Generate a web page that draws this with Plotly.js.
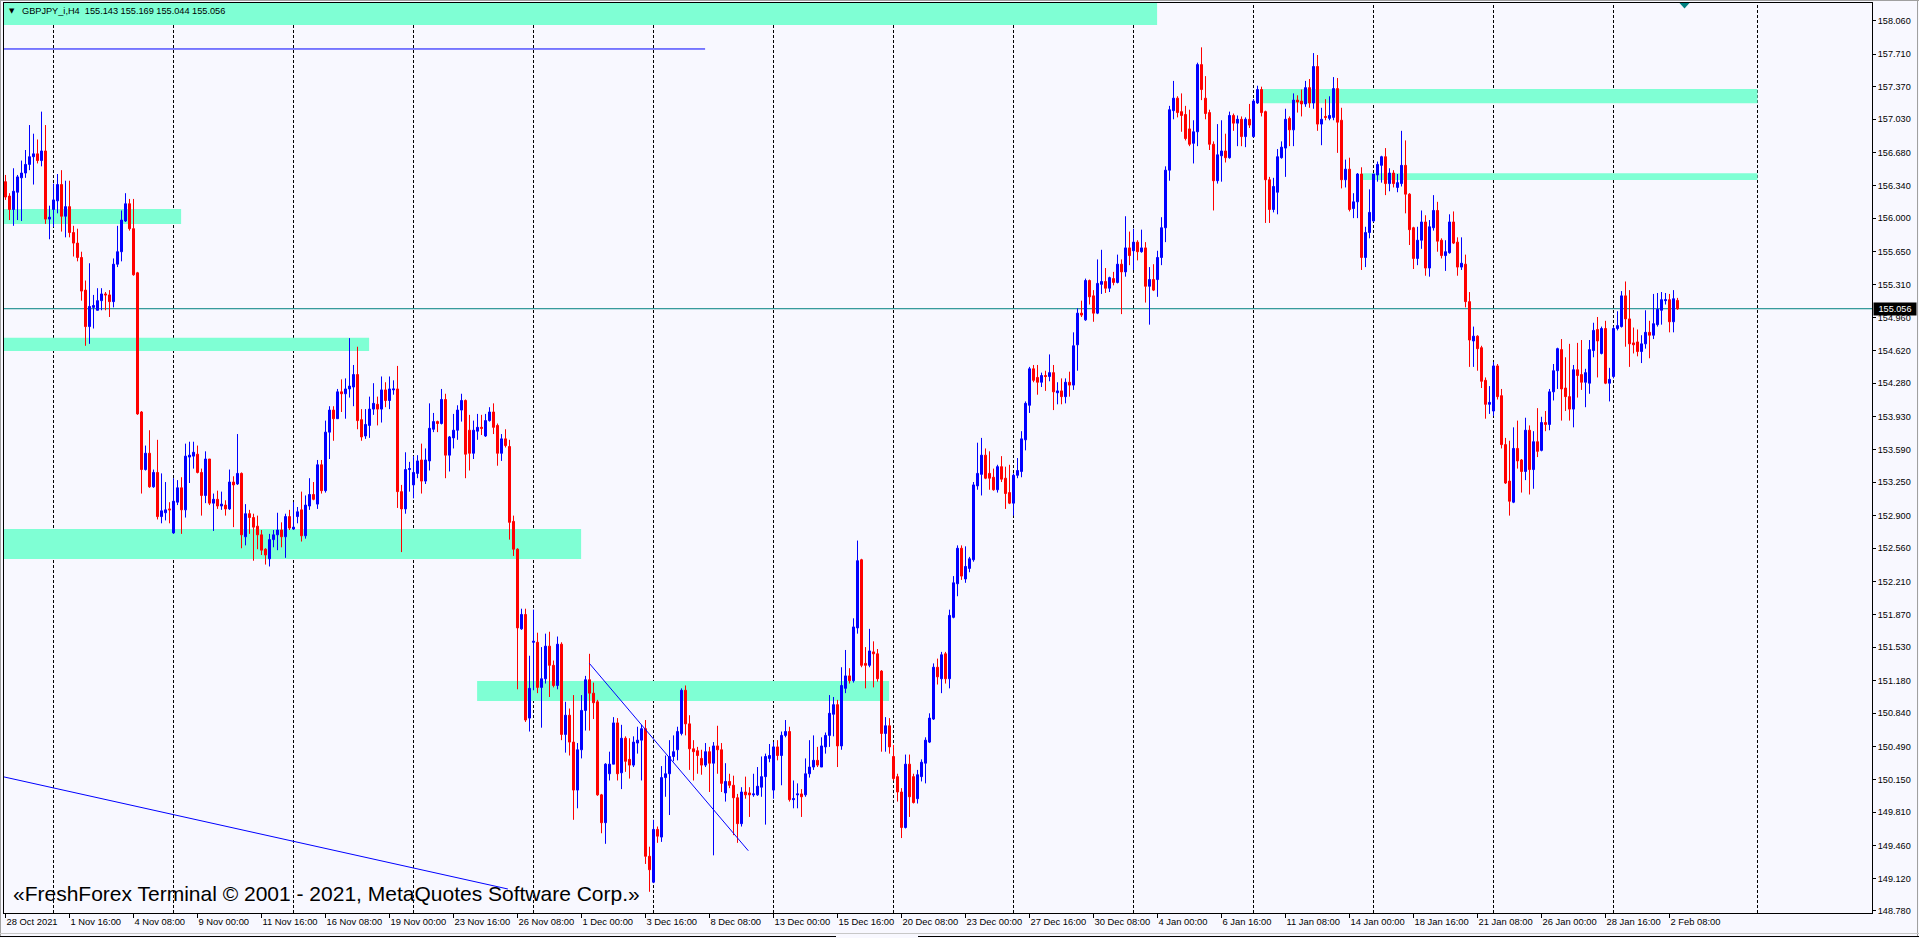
<!DOCTYPE html>
<html><head><meta charset="utf-8">
<script src="https://cdn.plot.ly/plotly-3.0.1.min.js"></script>
<style>html,body{margin:0;padding:0;background:#F8F8FF;overflow:hidden}#chart{width:1919px;height:938px}</style>
</head><body><div id="chart"></div>
<script>
const openP = [
156.38,156.23,156.09,156.27,156.42,156.47,156.56,156.64,156.67,156.60,
156.70,155.99,156.09,156.18,156.35,156.02,156.12,155.85,155.74,155.59,
155.25,154.87,155.07,155.04,155.14,155.21,155.20,155.13,155.52,155.65,
155.97,156.15,155.89,155.43,153.98,153.38,153.55,153.20,153.35,152.89,
152.93,152.97,152.72,153.04,153.19,152.96,153.51,153.52,153.54,153.35,
153.11,153.49,153.03,153.07,153.00,153.01,152.97,153.25,153.23,153.34,
152.68,152.92,152.88,152.79,152.70,152.55,152.45,152.65,152.70,152.75,
152.68,152.89,152.76,152.89,152.96,152.69,153.00,153.12,153.02,153.43,
153.16,153.77,154.00,153.91,154.19,154.17,154.22,154.24,154.37,153.90,
153.73,153.84,154.01,154.06,154.01,154.21,154.10,154.21,154.22,153.15,
152.97,153.38,153.22,153.34,153.48,153.26,153.47,153.80,153.88,153.86,
154.11,153.53,153.71,153.79,154.00,154.10,153.79,153.55,153.78,153.82,
153.73,153.89,153.98,153.84,153.55,153.70,153.62,152.84,152.55,151.72,
151.87,150.79,151.58,151.58,151.11,151.20,151.54,151.34,151.13,151.56,
150.62,150.82,150.54,150.04,150.46,150.87,151.19,151.05,150.96,149.99,
149.70,150.21,150.31,150.74,150.22,150.58,150.36,150.30,150.53,150.56,
150.68,149.35,149.08,149.63,149.55,150.17,150.21,150.39,150.46,150.63,
151.08,150.73,150.47,150.45,150.37,150.30,150.44,150.32,150.50,150.46,
150.01,150.13,150.09,149.96,149.69,150.02,150.01,149.99,149.99,150.07,
150.18,150.37,150.04,150.49,150.40,150.61,150.65,149.94,149.99,150.00,
149.99,150.21,150.28,150.35,150.28,150.49,150.61,150.83,150.93,150.50,
151.10,151.23,151.18,151.73,152.44,151.36,151.34,151.48,151.46,151.28,
150.63,150.71,150.39,150.18,150.02,149.65,150.31,150.18,149.95,150.18,
150.32,150.54,150.78,151.32,151.20,151.46,151.20,151.84,152.19,152.56,
152.24,152.35,152.44,153.21,153.33,153.53,153.34,153.30,153.17,153.41,
153.29,153.14,153.03,153.32,153.36,153.69,154.05,154.43,154.34,154.29,
154.36,154.35,154.39,154.18,154.20,154.14,154.29,154.26,154.68,155.01,
154.94,155.35,155.19,155.01,155.31,155.34,155.27,155.37,155.33,155.52,
155.44,155.69,155.66,155.75,155.65,155.69,155.29,155.36,155.36,155.59,
155.90,156.50,157.12,157.25,157.11,157.08,156.93,156.78,156.90,157.60,
157.25,157.10,156.77,156.39,156.65,156.70,156.63,157.07,156.99,157.03,
156.85,157.03,156.85,157.20,157.34,157.11,156.40,156.09,156.27,156.63,
156.73,157.04,156.92,157.23,157.22,157.19,157.36,157.20,157.58,156.98,
157.06,157.04,157.05,157.35,157.02,156.40,156.51,156.10,156.17,156.46,
155.59,155.85,155.97,156.45,156.55,156.64,156.36,156.47,156.32,156.36,
156.55,156.25,155.90,155.58,155.77,155.96,155.48,155.90,156.08,155.77,
155.61,155.64,155.96,155.75,155.49,155.52,155.13,154.72,154.77,154.65,
154.31,154.06,153.99,154.46,154.15,153.64,153.26,153.04,153.60,153.48,
153.36,153.79,153.38,153.67,153.58,153.87,153.85,154.19,154.41,154.63,
154.23,154.14,154.01,154.42,154.37,154.29,154.28,154.62,154.84,154.59,
154.85,154.28,154.35,154.85,154.87,155.19,154.95,154.70,154.71,154.61,
154.69,154.81,154.78,154.89,155.04,155.14,155.15,154.92,155.143];
const highP = [
156.45,156.26,156.52,156.45,156.60,156.71,156.97,156.88,156.82,157.11,
156.97,156.13,156.36,156.46,156.50,156.39,156.39,155.92,155.89,155.65,
155.35,155.53,155.20,155.27,155.27,155.23,155.25,155.58,155.92,156.08,
156.26,156.20,156.20,155.44,153.99,153.63,153.79,153.38,153.69,153.34,
153.25,153.04,153.29,153.27,153.30,153.65,153.67,153.67,153.63,153.39,
153.57,153.49,153.13,153.16,153.15,153.06,153.38,153.31,153.75,153.35,
153.02,152.96,152.92,152.90,152.75,152.56,152.71,152.75,152.93,152.83,
152.92,152.96,153.04,152.99,153.15,153.11,153.29,153.25,153.48,153.48,
153.89,154.04,154.04,154.22,154.32,154.33,154.75,154.47,154.66,154.01,
154.01,154.14,154.28,154.14,154.35,154.29,154.35,154.31,154.46,153.22,
153.56,153.46,153.52,153.53,153.65,153.60,154.07,153.97,153.89,154.22,
154.17,153.73,153.96,154.05,154.17,154.11,153.95,153.89,153.96,153.95,
153.96,154.03,154.07,153.86,153.75,153.80,153.69,152.90,152.56,151.93,
151.93,151.44,151.92,151.68,151.53,151.67,151.69,151.39,151.64,151.58,
150.96,150.89,151.03,150.53,151.03,151.23,151.46,151.16,150.98,150.00,
150.32,150.44,150.80,150.79,150.72,150.60,150.58,150.60,150.70,150.72,
150.77,149.45,149.73,149.66,150.29,150.40,150.56,150.61,150.70,151.10,
151.13,150.82,150.56,150.49,150.46,150.53,150.49,150.54,150.71,150.53,
150.32,150.21,150.19,150.00,150.07,150.18,150.07,150.21,150.28,150.39,
150.42,150.52,150.54,150.56,150.65,150.77,150.70,150.14,150.11,150.05,
150.37,150.56,150.61,150.49,150.59,150.64,151.03,151.01,150.98,151.32,
151.50,151.31,151.83,152.64,152.45,151.53,151.72,151.59,151.51,151.29,
150.80,150.79,150.51,150.21,150.06,150.41,150.41,150.21,150.25,150.36,
150.59,150.84,151.36,151.41,151.48,151.48,151.92,152.27,152.59,152.59,
152.58,152.47,153.25,153.66,153.71,153.60,153.57,153.39,153.43,153.52,
153.41,153.43,153.34,153.50,153.78,154.09,154.45,154.47,154.47,154.39,
154.41,154.58,154.47,154.29,154.33,154.33,154.40,154.81,155.06,155.14,
155.37,155.36,155.25,155.57,155.67,155.48,155.39,155.44,155.62,155.57,
156.02,155.86,155.89,155.77,155.88,155.75,155.49,155.52,155.66,156.01,
156.54,157.17,157.43,157.27,157.30,157.17,157.13,157.02,157.62,157.78,
157.48,157.13,156.80,156.98,157.02,156.88,157.11,157.09,157.07,157.06,
157.05,157.19,157.24,157.38,157.37,157.12,156.43,156.42,156.72,156.80,
157.14,157.06,157.30,157.28,157.34,157.43,157.45,157.72,157.70,157.15,
157.24,157.27,157.47,157.46,157.15,156.61,156.63,156.26,156.47,156.53,
155.91,156.30,156.46,156.59,156.65,156.73,156.52,156.50,156.46,156.91,
156.81,156.26,155.91,155.91,156.08,156.03,155.98,156.24,156.17,155.79,
155.77,156.04,156.07,155.80,155.80,155.62,155.23,154.87,154.78,154.67,
154.34,154.25,154.50,154.48,154.22,153.71,153.68,153.82,153.89,153.49,
153.92,153.84,153.78,154.02,153.93,153.99,154.22,154.48,154.65,154.74,
154.55,154.69,154.47,154.70,154.73,154.43,154.73,154.91,154.97,154.87,
154.93,154.44,154.87,155.03,155.24,155.34,155.25,154.86,154.84,154.78,
155.04,154.93,155.21,155.22,155.23,155.22,155.21,155.25,155.169];
const lowP = [
156.19,155.98,155.92,155.98,155.97,156.42,156.50,156.35,156.57,156.54,
155.94,155.78,155.91,156.05,155.86,155.80,155.80,155.60,155.55,155.14,
154.67,154.69,154.85,155.04,155.04,155.04,154.97,155.07,155.49,155.55,
155.96,155.87,155.40,153.95,153.13,153.37,153.19,153.19,152.86,152.82,
152.85,152.82,152.71,153.01,152.71,152.88,153.24,153.39,153.34,152.90,
153.03,153.01,152.74,152.97,152.96,152.90,152.96,152.78,153.22,152.56,
152.59,152.71,152.43,152.55,152.49,152.39,152.37,152.57,152.54,152.57,
152.46,152.75,152.75,152.82,152.63,152.66,152.96,153.06,152.97,153.13,
153.14,153.49,153.68,153.91,153.98,153.91,154.13,154.04,153.80,153.68,
153.70,153.71,153.95,153.84,153.87,154.03,154.01,154.16,152.98,152.52,
152.92,153.15,153.08,153.29,153.13,153.23,153.37,153.77,153.77,153.85,
153.29,153.36,153.60,153.69,153.88,153.29,153.37,153.49,153.69,153.74,
153.72,153.88,153.75,153.42,153.47,153.61,152.65,152.48,151.09,151.71,
150.75,150.65,151.08,151.05,150.69,151.15,151.01,151.11,151.09,150.56,
150.43,150.40,149.73,149.85,150.37,150.66,150.66,150.78,149.98,149.59,
149.48,150.14,150.31,150.14,150.05,150.23,150.16,150.28,150.42,150.14,
149.27,148.98,149.07,149.49,149.50,149.97,149.78,150.34,150.35,150.61,
150.61,150.25,150.14,150.21,150.20,150.28,150.02,149.36,150.21,150.02,
149.92,150.06,149.57,149.49,149.66,149.95,149.76,149.97,149.98,149.97,
149.68,150.33,149.95,150.35,150.09,150.59,149.92,149.85,149.85,149.76,
149.97,150.17,150.25,150.28,150.28,150.42,150.49,150.60,150.28,150.46,
151.05,151.15,151.16,151.67,151.32,151.10,151.32,151.11,151.17,150.44,
150.44,150.42,150.14,149.92,149.54,149.64,149.76,149.90,149.90,150.13,
150.11,150.53,150.77,151.14,151.05,151.15,151.10,151.83,152.06,152.23,
152.20,152.31,152.42,153.17,153.11,153.28,153.17,153.16,153.14,153.25,
152.97,153.02,152.90,153.29,153.30,153.58,153.97,154.29,154.16,154.24,
154.20,154.30,154.00,154.06,154.06,154.07,154.14,154.21,154.41,154.97,
154.93,155.10,154.92,155.00,155.21,155.22,155.23,155.30,155.32,155.00,
155.39,155.51,155.46,155.56,155.64,155.12,154.89,155.24,155.18,155.51,
155.75,156.39,157.03,157.05,156.90,156.81,156.75,156.57,156.75,157.23,
157.03,156.71,156.08,156.36,156.38,156.58,156.62,156.91,156.75,156.75,
156.74,156.94,156.84,157.19,157.06,155.95,155.95,156.06,156.04,156.62,
156.43,156.75,156.75,157.10,157.06,157.16,157.15,157.14,156.91,156.76,
157.02,157.02,157.02,156.68,156.31,156.32,156.07,156.00,156.00,155.46,
155.49,155.79,155.96,156.38,156.37,156.24,156.28,156.32,156.27,156.33,
156.05,155.72,155.47,155.51,155.68,155.40,155.39,155.87,155.65,155.58,
155.45,155.63,155.73,155.40,155.46,155.07,154.45,154.45,154.41,154.23,
153.91,153.96,153.94,154.11,153.60,153.23,152.90,153.03,153.39,153.14,
153.27,153.12,153.18,153.51,153.57,153.78,153.79,154.10,154.22,153.89,
153.99,153.89,153.82,154.13,154.21,154.03,154.17,154.55,154.34,154.58,
154.27,154.09,154.33,154.83,154.86,154.66,154.45,154.59,154.56,154.49,
154.64,154.54,154.74,154.87,154.89,155.10,154.81,154.81,155.044];
const closeP = [
156.22,156.09,156.28,156.43,156.47,156.56,156.64,156.67,156.60,156.70,
155.99,156.01,156.19,156.35,156.02,156.12,155.85,155.74,155.59,155.24,
154.87,155.08,155.09,155.14,155.21,155.20,155.13,155.52,155.65,155.98,
156.15,155.89,155.41,153.96,153.38,153.55,153.20,153.35,152.89,152.95,
152.96,152.96,153.05,153.19,152.96,153.52,153.53,153.56,153.35,153.11,
153.49,153.03,153.07,153.00,153.02,152.97,153.25,153.22,153.34,152.70,
152.92,152.88,152.78,152.70,152.54,152.49,152.65,152.70,152.75,152.68,
152.89,152.77,152.78,152.94,152.69,153.01,153.12,153.07,153.43,153.16,
153.77,154.00,153.91,154.19,154.17,154.22,154.25,154.37,153.89,153.72,
153.85,154.01,154.07,154.01,154.21,154.10,154.22,154.22,153.15,152.97,
153.38,153.39,153.35,153.47,153.26,153.48,153.81,153.88,153.86,154.11,
153.53,153.72,153.79,154.00,154.10,153.54,153.55,153.79,153.82,153.81,
153.89,153.98,153.82,153.55,153.70,153.63,152.83,152.55,151.73,151.87,
150.77,151.10,151.59,151.11,151.20,151.54,151.34,151.13,151.56,150.62,
150.82,150.54,150.04,150.46,150.87,151.19,151.05,150.95,149.99,149.70,
150.31,150.31,150.74,150.21,150.58,150.34,150.30,150.54,150.56,150.68,
149.35,149.21,149.63,149.56,150.17,150.21,150.39,150.44,150.65,151.08,
150.73,150.47,150.44,150.40,150.30,150.44,150.32,150.50,150.46,150.11,
150.13,150.09,149.96,149.69,150.02,149.99,149.99,150.00,150.08,150.18,
150.39,150.40,150.49,150.40,150.61,150.65,149.94,149.95,150.00,149.97,
150.21,150.28,150.35,150.30,150.50,150.61,150.84,150.93,150.50,151.13,
151.23,151.18,151.74,152.43,151.34,151.34,151.49,151.46,151.20,150.63,
150.71,150.49,150.16,150.02,149.65,150.31,149.97,149.91,150.20,150.33,
150.56,150.79,151.32,151.22,151.45,151.20,151.86,152.20,152.56,152.27,
152.37,152.45,153.22,153.34,153.53,153.29,153.29,153.17,153.41,153.28,
153.13,153.03,153.32,153.37,153.70,154.07,154.43,154.31,154.29,154.36,
154.35,154.39,154.19,154.20,154.14,154.29,154.26,154.67,155.01,154.99,
155.35,155.18,155.01,155.32,155.34,155.27,155.38,155.33,155.52,155.44,
155.69,155.61,155.75,155.65,155.69,155.29,155.36,155.25,155.59,155.90,
156.50,157.13,157.25,157.10,157.07,156.83,156.77,156.90,157.60,157.34,
157.09,156.77,156.39,156.66,156.70,156.63,157.07,156.99,157.03,156.85,
157.03,156.97,157.22,157.34,157.10,156.40,156.09,156.33,156.64,156.74,
157.03,156.92,157.23,157.21,157.19,157.36,157.20,157.58,156.98,157.03,
157.05,157.07,157.35,157.00,156.40,156.51,156.09,156.17,156.46,155.59,
155.85,156.06,156.46,156.56,156.64,156.36,156.47,156.36,156.37,156.55,
156.25,155.88,155.58,155.77,155.96,155.48,155.91,156.08,155.76,155.61,
155.65,155.96,155.74,155.49,155.53,155.13,154.73,154.77,154.64,154.30,
154.06,154.08,154.46,154.14,153.64,153.24,153.05,153.60,153.47,153.36,
153.79,153.38,153.67,153.57,153.87,153.85,154.19,154.41,154.64,154.22,
154.14,154.01,154.42,154.36,154.29,154.39,154.63,154.83,154.72,154.85,
154.28,154.32,154.85,154.88,155.19,154.95,154.69,154.68,154.61,154.69,
154.81,154.78,154.90,155.05,155.15,155.15,154.92,155.16,155.056];

const candleIdx = openP.map((_, i) => i);

const xTickIdx = [0,16,32,48,64,80,96,112,128,144,160,176,192,208,224,240,256,272,288,304,320,336,352,368,384,400,416];
const xTickText = ["28 Oct 2021","1 Nov 16:00","4 Nov 08:00","9 Nov 00:00","11 Nov 16:00","16 Nov 08:00","19 Nov 00:00","23 Nov 16:00","26 Nov 08:00","1 Dec 00:00","3 Dec 16:00","8 Dec 08:00","13 Dec 00:00","15 Dec 16:00","20 Dec 08:00","23 Dec 00:00","27 Dec 16:00","30 Dec 08:00","4 Jan 00:00","6 Jan 16:00","11 Jan 08:00","14 Jan 00:00","18 Jan 16:00","21 Jan 08:00","26 Jan 00:00","28 Jan 16:00","2 Feb 08:00"];
const yTickVals = [158.060,157.710,157.370,157.030,156.680,156.340,156.000,155.650,155.310,154.960,154.620,154.280,153.930,153.590,153.250,152.900,152.560,152.210,151.870,151.530,151.180,150.840,150.490,150.150,149.810,149.460,149.120,148.780];
const gridIdx = [12,42,72,102,132,162,192,222,252,282,312,342,372,402,438];

// rectangle zones (candle index span, price span)
const zoneStart = [-1, -1, -1, -1, 117.9, 313.6, 339.0];
const zoneEnd   = [287.9, 43.9, 90.9, 143.9, 220.9, 438, 438];
const zoneLow   = [158.013, 155.939, 154.616, 152.448, 150.968, 157.197, 156.398];
const zoneHigh  = [158.400, 156.096, 154.754, 152.761, 151.177, 157.346, 156.468];

// trend lines
const trendX0 = [-0.375, -0.375, 145.95];
const trendX1 = [174.9, 125.6, 185.7];
const trendY0 = [157.763, 150.177, 151.361];
const trendY1 = [157.763, 149.009, 149.408];

const symbol = "GBPJPY_i,H4";
const watermark = "«FreshForex Terminal © 2001 - 2021, MetaQuotes Software Corp.»";

// ---------- layout helpers (pixel -> paper) ----------
const W = 1919, H = 938, ML = 4, MR = 47, MT = 3, MB = 25;
const PW = W - ML - MR, PH = H - MT - MB;
const xp = px => (px - ML) / PW;
const yp = py => (H - MB - py) / PH;

const last = openP.length - 1;
const lastClose = closeP[last];

const shapes = [];
for (let k = 0; k < zoneStart.length; k++) {
  shapes.push({type:'rect', xref:'x', yref:'y', x0:zoneStart[k], x1:zoneEnd[k], y0:zoneLow[k], y1:zoneHigh[k],
    fillcolor:'#7FFFD4', line:{width:0}, layer:'below'});
}
gridIdx.forEach(g => shapes.push({type:'line', xref:'x', yref:'paper', x0:g, x1:g, y0:0, y1:1,
  line:{color:'#000000', width:1, dash:'3px,2px'}, layer:'below'}));
shapes.push({type:'line', xref:'paper', yref:'y', x0:0, x1:1, y0:lastClose, y1:lastClose,
  line:{color:'#008080', width:1}, layer:'below'});
for (let k = 0; k < trendX0.length; k++) {
  shapes.push({type:'line', xref:'x', yref:'y', x0:trendX0[k], x1:trendX1[k], y0:trendY0[k], y1:trendY1[k],
    line:{color:'#0000FF', width:1}, layer:'above'});
}
// chart shift marker
shapes.push({type:'path', xref:'paper', yref:'paper',
  path:`M ${xp(1679.5)},${yp(3)} L ${xp(1689.5)},${yp(3)} L ${xp(1684.5)},${yp(8.5)} Z`,
  fillcolor:'#008080', line:{width:0}});
// window borders
shapes.push({type:'line', xref:'paper', yref:'paper', x0:xp(0), x1:xp(W), y0:yp(0.5), y1:yp(0.5), line:{color:'#A0A0A0', width:1}});
shapes.push({type:'line', xref:'paper', yref:'paper', x0:xp(0.5), x1:xp(0.5), y0:yp(0), y1:yp(937), line:{color:'#A0A0A0', width:1}});
shapes.push({type:'line', xref:'paper', yref:'paper', x0:xp(1917.5), x1:xp(1917.5), y0:yp(0), y1:yp(937), line:{color:'#A0A0A0', width:1}});
shapes.push({type:'line', xref:'paper', yref:'paper', x0:xp(0), x1:xp(W), y0:yp(933.5), y1:yp(933.5), line:{color:'#C8C8C8', width:1}});
shapes.push({type:'line', xref:'paper', yref:'paper', x0:xp(0), x1:xp(836), y0:yp(936.5), y1:yp(936.5), line:{color:'#000000', width:1}});
shapes.push({type:'line', xref:'paper', yref:'paper', x0:xp(918), x1:xp(W), y0:yp(936.5), y1:yp(936.5), line:{color:'#000000', width:1}});

const fam = 'Liberation Sans, Arial, sans-serif';
const annotations = [
  {xref:'paper', yref:'paper', x:xp(7), y:yp(11), xanchor:'left', yanchor:'middle', showarrow:false,
   text:'▼', font:{family:'DejaVu Sans', size:7, color:'#000'}},
  {xref:'paper', yref:'paper', x:xp(20), y:yp(11), xanchor:'left', yanchor:'middle', showarrow:false,
   text: symbol + '\u00a0\u00a0' + [openP[last], highP[last], lowP[last], closeP[last]].map(v => v.toFixed(3)).join(' '),
   font:{family:fam, size:9.2, color:'#000'}},
  {xref:'paper', yref:'paper', x:xp(11), y:yp(893), xanchor:'left', yanchor:'middle', showarrow:false,
   text: watermark, font:{family:fam, size:21, color:'#000'}},
  {xref:'paper', yref:'y', x:1, y:lastClose, xanchor:'left', yanchor:'middle', xshift:1, showarrow:false,
   text: lastClose.toFixed(3), bgcolor:'#000000', width:40, height:10, borderpad:1,
   font:{family:fam, size:9.1, color:'#FFFFFF'}}
];

const trace = {
  type:'candlestick', x:candleIdx, open:openP, high:highP, low:lowP, close:closeP,
  increasing:{line:{color:'#0000FF', width:1}, fillcolor:'#0000FF'},
  decreasing:{line:{color:'#FF0000', width:1}, fillcolor:'#FF0000'},
  whiskerwidth:0, hoverinfo:'skip', showlegend:false
};

const layout = {
  width:W, height:H, autosize:false,
  margin:{l:ML, r:MR, t:MT, b:MB, pad:0},
  paper_bgcolor:'#F8F8FF', plot_bgcolor:'#F8F8FF',
  showlegend:false, hovermode:false, dragmode:false,
  boxgap:0.5, boxgroupgap:0,
  xaxis:{range:[-0.375, 466.625], tickmode:'array', tickvals:xTickIdx, ticktext:xTickText,
    ticks:'outside', ticklen:4, tickwidth:1, tickcolor:'#000', ticklabelposition:'outside right', tickangle:0,
    tickfont:{family:fam, size:9.4, color:'#000'}, showgrid:false, zeroline:false,
    showline:true, mirror:true, linecolor:'#000', linewidth:1, rangeslider:{visible:false}, fixedrange:true},
  yaxis:{side:'right', range:[148.759, 158.242], tickmode:'array', tickvals:yTickVals, tickformat:'.3f',
    ticks:'outside', ticklen:3, tickwidth:1, tickcolor:'#000',
    tickfont:{family:fam, size:9.1, color:'#000'}, showgrid:false, zeroline:false,
    showline:true, mirror:true, linecolor:'#000', linewidth:1, fixedrange:true},
  shapes:shapes, annotations:annotations
};

Plotly.newPlot('chart', [trace], layout, {staticPlot:true, displayModeBar:false});
</script>
</body></html>
